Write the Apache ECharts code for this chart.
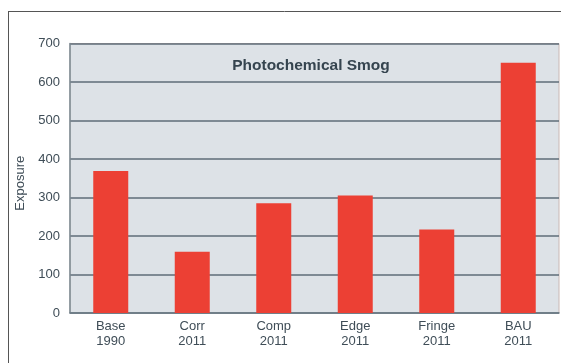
<!DOCTYPE html>
<html>
<head>
<meta charset="utf-8">
<script src="https://cdn.jsdelivr.net/npm/echarts@6/dist/echarts.min.js"></script>
<style>
html,body{margin:0;padding:0;background:#fff;}
#c{width:561px;height:363px;}
</style>
</head>
<body>
<div id="c"></div>
<script>
const categories = ['Base\n1990', 'Corr\n2011', 'Comp\n2011', 'Edge\n2011', 'Fringe\n2011', 'BAU\n2011'];
const exposure = [369, 159, 285, 305, 217, 650];
const yTicks = [0, 100, 200, 300, 400, 500, 600, 700];

const chart = echarts.init(document.getElementById('c'), null, {renderer: 'canvas'});
chart.setOption({
  animation: false,
  backgroundColor: '#ffffff',
  title: {
    text: 'Photochemical Smog',
    left: 306, top: 53, textAlign: 'center',
    textStyle: {fontFamily: 'Liberation Sans, Arial, sans-serif', fontSize: 15.5, fontWeight: 'bold', color: '#35444f'}
  },
  grid: {
    left: 70, right: 2, top: 43.5, bottom: 50,
    show: true, backgroundColor: '#dde2e7', borderColor: '#c9b8b4', borderWidth: 1
  },
  xAxis: {
    type: 'category',
    data: categories,
    axisTick: {show: false},
    axisLine: {show: true, lineStyle: {color: '#6d7c86', width: 1.5}},
    axisLabel: {fontFamily: 'Liberation Sans, Arial, sans-serif', fontSize: 13, color: '#3f4d57', lineHeight: 15, margin: 6}
  },
  yAxis: {
    type: 'value',
    min: 0, max: 700, interval: 100,
    name: 'Exposure',
    nameLocation: 'middle',
    nameRotate: 90,
    nameGap: 39,
    nameTextStyle: {fontFamily: 'Liberation Sans, Arial, sans-serif', fontSize: 13, color: '#3f4d57', padding: [0, 10, 0, 0]},
    axisLine: {show: true, lineStyle: {color: '#7a8891', width: 1.5}},
    axisTick: {show: false},
    axisLabel: {
      fontFamily: 'Liberation Sans, Arial, sans-serif', fontSize: 13, color: '#3f4d57', margin: 10,
      formatter: v => yTicks.includes(v) ? String(v) : ''
    },
    splitLine: {show: true, lineStyle: {color: '#5e6d79', width: 1.5}}
  },
  series: [{
    type: 'bar',
    data: exposure,
    barWidth: 35,
    itemStyle: {color: '#ec4034'}
  }],
  graphic: [
    {type: 'line', shape: {x1: 8, y1: 11.5, x2: 561, y2: 11.5}, style: {stroke: '#555', lineWidth: 1}, z: 100},
    {type: 'line', shape: {x1: 8.5, y1: 11, x2: 8.5, y2: 363}, style: {stroke: '#555', lineWidth: 1}, z: 100}
  ]
});
</script>
</body>
</html>
